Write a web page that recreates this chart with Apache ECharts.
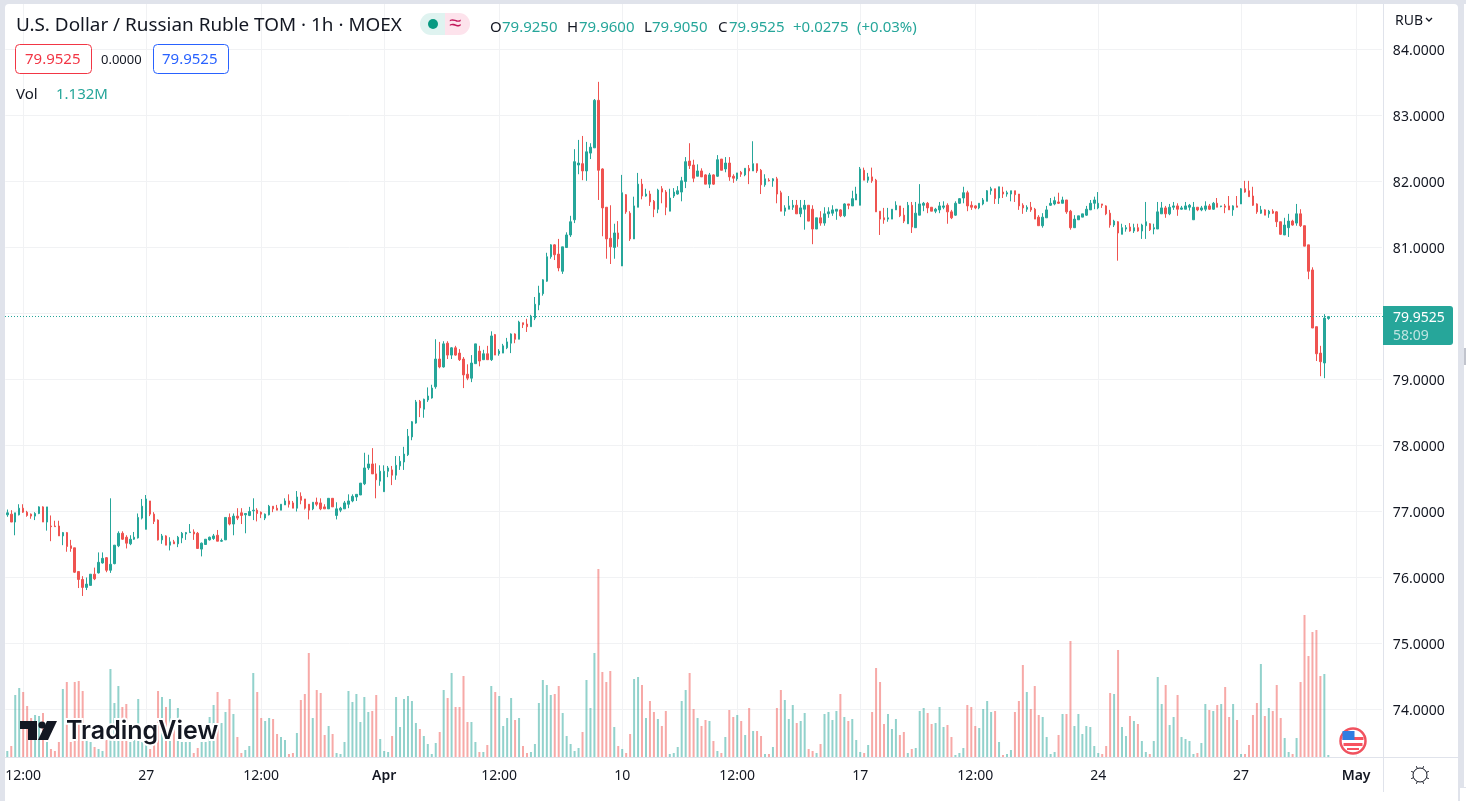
<!DOCTYPE html>
<html>
<head>
<meta charset="utf-8">
<title>USDRUB_TOM 1h</title>
<style>
  html, body { margin: 0; padding: 0; background: #e0e3eb; overflow: hidden; }
  .card { position: absolute; background: #fff; }
  #main { position: absolute; left: 0; top: 0; width: 1466px; height: 801px; }
</style>
<script src="https://cdn.jsdelivr.net/npm/echarts@6/dist/echarts.min.js"></script>
</head>
<body>
<div class="card" style="left:5px;top:4px;width:1453px;height:797px;border-radius:4px 4px 0 0"></div>
<div class="card" style="left:1464px;top:4px;width:2px;height:783px"></div>
<div class="card" style="left:1460px;top:788px;width:6px;height:13px"></div>
<div id="main"></div>
<script>
// hourly bars, one value per bar
const opens = [
  76.95,76.96,76.84,76.95,77.05,76.99,76.96,76.93,76.97,77.07,
  76.84,76.78,76.78,76.78,76.63,76.68,76.48,76.45,76.09,75.97,
  75.85,75.88,76.05,76.07,76.22,76.30,76.11,76.21,76.48,76.67,
  76.61,76.51,76.58,76.60,76.90,76.73,77.16,76.96,76.87,76.57,
  76.63,76.49,76.54,76.51,76.60,76.66,76.68,76.69,76.67,76.43,
  76.50,76.57,76.59,76.64,76.55,76.57,76.91,76.81,76.93,76.98,
  76.95,76.94,77.01,77.02,76.99,76.90,76.95,77.08,77.05,77.02,
  77.10,77.16,77.13,77.05,77.23,77.19,77.11,77.04,77.14,77.13,
  77.07,77.04,77.20,76.94,77.02,77.04,77.11,77.16,77.22,77.25,
  77.42,77.66,77.72,77.57,77.46,77.30,77.61,77.63,77.55,77.69,
  77.75,77.86,78.13,78.34,78.67,78.55,78.69,78.72,78.89,79.31,
  79.19,79.55,79.37,79.48,79.40,79.31,79.08,79.02,79.24,79.43,
  79.30,79.39,79.30,79.68,79.39,79.40,79.48,79.55,79.69,79.61,
  79.86,79.84,79.80,79.93,80.13,80.30,80.49,80.86,81.04,80.90,
  80.64,81.00,81.19,81.42,82.25,82.27,82.16,82.43,82.51,83.23,
  82.19,81.61,81.14,81.00,81.22,80.72,81.80,81.52,81.13,81.61,
  81.96,81.78,81.81,81.70,81.58,81.89,81.84,81.55,81.78,81.81,
  81.84,82.00,82.31,82.25,82.08,82.16,82.10,81.96,82.10,82.08,
  82.34,82.19,82.28,82.08,82.04,82.14,82.10,82.20,82.16,82.27,
  82.17,81.95,82.02,82.01,82.04,81.83,81.55,81.58,81.61,81.64,
  81.51,81.58,81.64,81.58,81.28,81.45,81.37,81.51,81.52,81.55,
  81.57,81.48,81.66,81.63,81.72,81.64,82.17,82.02,82.07,82.02,
  81.55,81.45,81.43,81.43,81.57,81.63,81.49,81.36,81.64,81.30,
  81.49,81.64,81.67,81.61,81.55,81.57,81.61,81.64,81.54,81.49,
  81.67,81.75,81.83,81.64,81.63,81.60,81.66,81.70,81.86,81.89,
  81.75,81.84,81.81,81.81,81.86,81.81,81.64,81.58,81.61,81.58,
  81.46,81.33,81.45,81.64,81.66,81.69,81.67,81.72,81.55,81.30,
  81.42,81.46,81.49,81.57,81.67,81.60,81.66,81.63,81.52,81.34,
  81.39,81.20,81.28,81.31,81.25,81.30,81.25,81.33,81.36,81.28,
  81.28,81.51,81.60,81.51,81.61,81.63,81.58,81.58,81.61,81.42,
  81.61,81.57,81.58,81.63,81.58,81.67,81.62,81.63,81.63,81.57,
  81.63,81.66,81.89,81.86,81.78,81.66,81.52,81.57,81.51,81.55,
  81.54,81.39,81.19,81.30,81.40,81.37,81.51,81.33,81.04,80.66,
  79.80,79.40,79.25,79.925
];
const closes = [
  76.98,76.84,76.98,77.05,76.99,76.94,76.93,76.97,77.07,76.84,
  77.07,76.77,76.77,76.63,76.68,76.47,76.44,76.08,75.97,75.85,
  75.90,76.05,75.98,76.23,76.29,76.11,76.20,76.49,76.67,76.58,
  76.52,76.58,76.61,76.91,77.08,77.19,76.96,76.85,76.57,76.63,
  76.49,76.54,76.51,76.61,76.67,76.68,76.69,76.66,76.44,76.52,
  76.58,76.61,76.63,76.55,76.56,76.91,76.81,76.93,76.90,76.94,
  76.97,77.00,77.02,76.97,76.96,76.96,77.08,77.04,77.02,77.11,
  77.16,77.11,77.05,77.22,77.17,77.05,77.02,77.14,77.11,77.04,
  77.04,77.20,77.07,77.04,77.05,77.13,77.16,77.23,77.26,77.43,
  77.66,77.72,77.57,77.48,77.61,77.61,77.66,77.55,77.70,77.76,
  77.87,78.14,78.36,78.66,78.57,78.70,78.75,78.87,79.31,79.19,
  79.54,79.37,79.48,79.37,79.30,79.07,79.02,79.25,79.54,79.28,
  79.39,79.30,79.66,79.37,79.43,79.51,79.57,79.69,79.61,79.87,
  79.83,79.80,79.96,80.14,80.31,80.51,80.86,81.04,80.89,80.69,
  81.01,81.19,81.39,82.30,82.28,82.16,82.45,82.52,83.23,82.17,
  81.60,81.13,81.01,81.22,81.13,81.83,81.54,81.13,81.63,81.96,
  81.78,81.81,81.69,81.58,81.87,81.84,81.61,81.75,81.84,81.86,
  82.01,82.30,82.24,82.05,82.16,82.07,81.96,82.10,81.96,82.33,
  82.17,82.28,82.07,82.05,82.13,82.11,82.20,82.16,82.27,82.16,
  81.95,82.04,82.01,82.04,81.81,81.55,81.60,81.63,81.64,81.51,
  81.60,81.64,81.40,81.28,81.45,81.37,81.51,81.54,81.57,81.58,
  81.48,81.66,81.64,81.74,81.81,82.19,82.02,82.07,82.01,81.54,
  81.43,81.42,81.45,81.58,81.64,81.48,81.40,81.64,81.31,81.52,
  81.66,81.67,81.60,81.55,81.58,81.63,81.63,81.54,81.45,81.67,
  81.74,81.83,81.63,81.61,81.60,81.67,81.72,81.86,81.89,81.74,
  81.92,81.81,81.83,81.86,81.80,81.63,81.60,81.61,81.57,81.43,
  81.33,81.46,81.57,81.67,81.71,81.67,81.72,81.54,81.30,81.43,
  81.48,81.51,81.58,81.67,81.72,81.67,81.64,81.51,81.34,81.40,
  81.22,81.30,81.30,81.25,81.30,81.25,81.34,81.39,81.27,81.30,
  81.54,81.60,81.51,81.61,81.63,81.58,81.60,81.63,81.64,81.61,
  81.57,81.60,81.63,81.58,81.67,81.61,81.63,81.61,81.57,81.63,
  81.61,81.89,81.84,81.77,81.64,81.54,81.57,81.49,81.55,81.52,
  81.39,81.20,81.34,81.40,81.34,81.51,81.33,81.02,80.64,79.78,
  79.39,79.27,79.93,79.9525
];
const lows = [
  76.92,76.84,76.64,76.94,76.98,76.92,76.89,76.87,76.96,76.84,
  76.71,76.55,76.77,76.63,76.49,76.39,76.39,76.07,75.84,75.72,
  75.81,75.88,75.96,76.06,76.21,76.08,76.07,76.20,76.46,76.57,
  76.44,76.49,76.57,76.59,76.88,76.73,76.93,76.81,76.56,76.51,
  76.49,76.41,76.51,76.46,76.52,76.57,76.68,76.57,76.44,76.32,
  76.50,76.56,76.57,76.55,76.54,76.57,76.79,76.64,76.87,76.81,
  76.67,76.93,76.87,76.85,76.90,76.87,76.94,76.99,77.02,77.02,
  77.10,77.06,77.05,77.00,77.11,77.03,76.88,77.02,77.08,77.02,
  77.04,77.04,77.07,76.88,76.99,77.04,77.05,77.14,77.16,77.25,
  77.40,77.63,77.57,77.20,77.39,77.30,77.52,77.40,77.48,77.63,
  77.63,77.84,78.08,78.33,78.43,78.42,78.66,78.71,78.86,79.17,
  79.18,79.31,79.31,79.36,79.28,78.87,78.99,78.96,79.24,79.20,
  79.30,79.30,79.28,79.37,79.36,79.40,79.46,79.40,79.55,79.61,
  79.78,79.72,79.80,79.90,80.05,80.27,80.48,80.83,80.81,80.64,
  80.60,81.00,81.16,81.37,82.11,82.02,82.01,82.34,82.51,81.72,
  81.17,80.83,80.75,80.83,81.01,80.72,81.51,81.10,81.13,81.61,
  81.73,81.77,81.63,81.46,81.52,81.67,81.49,81.55,81.75,81.80,
  81.70,81.90,82.19,81.99,82.08,82.07,81.96,81.90,81.95,82.07,
  82.17,82.14,82.01,81.98,82.01,82.07,82.08,81.96,82.16,82.13,
  81.81,81.92,82.00,81.92,81.67,81.55,81.48,81.58,81.57,81.51,
  81.46,81.27,81.40,81.05,81.28,81.33,81.33,81.45,81.48,81.42,
  81.46,81.46,81.58,81.63,81.72,81.64,82.02,81.98,81.98,81.54,
  81.19,81.36,81.39,81.43,81.57,81.46,81.37,81.36,81.22,81.30,
  81.49,81.55,81.52,81.55,81.52,81.52,81.58,81.36,81.43,81.48,
  81.66,81.67,81.55,81.57,81.58,81.58,81.64,81.70,81.80,81.66,
  81.66,81.75,81.77,81.70,81.69,81.57,81.51,81.54,81.54,81.43,
  81.33,81.30,81.45,81.63,81.64,81.66,81.67,81.51,81.27,81.30,
  81.42,81.46,81.48,81.57,81.58,81.58,81.60,81.49,81.30,81.31,
  80.80,81.20,81.24,81.24,81.22,81.24,81.13,81.13,81.25,81.20,
  81.28,81.51,81.45,81.49,81.57,81.48,81.57,81.58,81.56,81.42,
  81.55,81.55,81.55,81.57,81.57,81.61,81.61,81.52,81.57,81.48,
  81.61,81.66,81.83,81.77,81.63,81.51,81.51,81.49,81.45,81.51,
  81.31,81.19,81.19,81.16,81.33,81.33,81.31,81.02,80.52,79.78,
  79.28,79.05,79.02,79.905
];
const highs = [
  77.03,77.02,76.98,77.11,77.11,77.01,76.97,76.99,77.08,77.08,
  77.07,76.94,76.86,76.86,76.69,76.69,76.57,76.45,76.09,76.02,
  76.00,76.05,76.15,76.38,76.38,76.31,77.20,76.49,76.70,76.70,
  76.64,76.64,76.69,76.97,77.19,77.25,77.16,76.99,76.88,76.66,
  76.64,76.61,76.57,76.63,76.69,76.69,76.81,76.73,76.69,76.53,
  76.58,76.62,76.66,76.72,76.59,76.91,76.97,76.97,77.05,77.05,
  76.97,77.07,77.20,77.05,77.00,76.97,77.10,77.08,77.10,77.11,
  77.20,77.26,77.16,77.31,77.29,77.19,77.11,77.14,77.21,77.20,
  77.11,77.20,77.20,77.14,77.07,77.16,77.26,77.26,77.26,77.43,
  77.89,77.86,77.96,77.73,77.70,77.70,77.69,77.69,77.84,77.84,
  77.98,78.25,78.37,78.69,78.69,78.71,78.88,78.92,79.61,79.57,
  79.58,79.58,79.49,79.51,79.46,79.34,79.23,79.37,79.54,79.51,
  79.45,79.51,79.73,79.69,79.46,79.54,79.63,79.70,79.70,79.89,
  79.86,79.92,79.98,80.25,80.42,80.52,80.92,81.05,81.05,81.13,
  81.01,81.23,81.48,82.49,82.63,82.69,82.60,82.58,83.25,83.51,
  82.20,81.61,81.64,81.36,81.40,82.10,81.81,81.55,81.77,82.13,
  82.04,81.89,81.86,81.72,81.89,81.93,81.87,81.89,81.90,81.93,
  82.07,82.37,82.58,82.33,82.26,82.20,82.11,82.13,82.11,82.40,
  82.34,82.37,82.37,82.11,82.13,82.16,82.20,82.25,82.61,82.27,
  82.19,82.11,82.05,82.05,82.07,81.86,81.64,81.78,81.72,81.72,
  81.72,81.72,81.64,81.64,81.45,81.55,81.61,81.61,81.64,81.58,
  81.58,81.67,81.66,81.86,81.92,82.22,82.21,82.13,82.21,82.04,
  81.55,81.60,81.60,81.58,81.70,81.63,81.60,81.69,81.69,81.69,
  81.96,81.69,81.69,81.61,81.60,81.69,81.70,81.67,81.57,81.70,
  81.75,81.92,81.86,81.70,81.64,81.67,81.75,81.87,81.92,81.89,
  81.92,81.92,81.86,81.86,81.86,81.81,81.67,81.64,81.69,81.60,
  81.49,81.52,81.63,81.75,81.77,81.83,81.77,81.72,81.57,81.49,
  81.48,81.51,81.63,81.72,81.77,81.84,81.66,81.64,81.57,81.42,
  81.40,81.36,81.34,81.37,81.36,81.36,81.36,81.69,81.37,81.36,
  81.69,81.69,81.63,81.66,81.69,81.67,81.63,81.69,81.66,81.69,
  81.61,81.63,81.70,81.66,81.69,81.75,81.63,81.66,81.78,81.64,
  81.78,81.90,82.01,82.01,81.92,81.67,81.63,81.58,81.57,81.58,
  81.55,81.39,81.45,81.51,81.42,81.66,81.58,81.33,81.04,80.70,
  79.80,79.51,79.99,79.96
];
// volume has no scale in the picture, so these are relative pane units
const volumes = [
  6,11,62,69,65,51,39,42,41,44,
  15,8,6,15,68,75,15,75,76,66,
  20,15,10,8,6,17,88,54,71,50,
  53,15,17,58,15,15,8,12,66,60,
  50,58,39,49,15,15,15,4,9,15,
  15,40,52,65,34,45,58,43,20,4,
  7,11,84,65,39,36,39,38,23,20,
  17,3,4,24,57,63,104,39,67,64,
  22,31,23,4,3,15,66,55,63,35,
  60,45,46,62,18,6,5,21,60,30,
  58,61,56,34,28,21,13,3,14,25,
  67,59,84,50,50,81,35,35,15,5,
  5,12,71,65,61,31,39,59,37,39,
  11,4,5,13,54,77,72,62,63,71,
  44,21,13,6,9,25,77,49,104,188,
  85,75,86,30,11,8,4,23,78,80,
  72,39,56,45,38,31,46,3,4,10,
  56,67,84,48,39,31,37,36,16,6,
  4,20,47,40,42,36,22,49,26,26,
  21,3,3,10,49,67,57,38,52,34,
  36,44,8,6,4,13,43,45,37,46,
  63,40,36,38,17,5,4,12,45,89,
  75,33,43,28,38,22,25,4,8,9,
  46,49,44,33,34,50,30,32,20,2,
  4,9,52,50,31,29,48,56,45,46,
  15,2,3,7,45,56,92,65,48,71,
  42,40,20,3,5,22,43,43,116,31,
  43,23,31,30,11,4,3,11,64,63,
  107,30,21,41,36,33,16,5,3,16,
  80,53,72,32,40,62,20,18,16,3,
  4,14,53,47,46,52,53,70,40,53,
  37,3,3,12,42,54,93,41,49,46,
  72,39,19,5,3,19,75,142,101,125,
  127,81,83,2
];
const lastPrice = 79.9525;

// time axis: bar slots (including empty ones to the right) and the labelled slots
const slotCount = 347;
const tickSlots = [4, 35, 64, 95, 124, 155, 184, 215, 244, 275, 311, 340];
const tickLabels = ["12:00", "27", "12:00", "Apr", "12:00", "10", "12:00", "17", "12:00", "24", "27", "May"];
const boldLabels = ["Apr", "May"];
const categories = [];
for (let i = 0; i < slotCount; i++) {
  const at = tickSlots.indexOf(i);
  categories.push(at >= 0 ? tickLabels[at] : "");
}
const priceGridValues = [74, 75, 76, 77, 78, 79, 80, 81, 82, 83, 84];
const priceLabelValues = [74, 75, 76, 77, 78, 79, 81, 82, 83, 84];

const UP = "#26a69a";
const DOWN = "#ef5350";
const UP_VOL = "rgba(38,166,154,0.5)";
const DOWN_VOL = "rgba(239,83,80,0.5)";
const GRID = "#f1f2f4";
const LINE = "#e0e3eb";
const TEXT = "#131722";
const FONT = "'Noto Sans', sans-serif";

const candleData = opens.map((o, i) => [o, closes[i], lows[i], highs[i]]);
const volumeData = volumes.map((v, i) => ({
  value: v,
  itemStyle: { color: closes[i] >= opens[i] ? UP_VOL : DOWN_VOL }
}));
const isTick = (i) => tickSlots.indexOf(i) >= 0;

function label(x, y, text, color, size, extra) {
  return {
    type: "text", x: x, y: y, z: 50, silent: true,
    style: Object.assign({
      text: text, fill: color, font: size + "px " + FONT,
      textVerticalAlign: "middle", textAlign: "left"
    }, extra || {})
  };
}
function hline(x1, x2, y, color) {
  return { type: "line", z: 40, silent: true, shape: { x1: x1, y1: y, x2: x2, y2: y }, style: { stroke: color, lineWidth: 1 } };
}
function vline(x, y1, y2, color) {
  return { type: "line", z: 40, silent: true, shape: { x1: x, y1: y1, x2: x, y2: y2 }, style: { stroke: color, lineWidth: 1 } };
}
function box(x, y, w, h, r, fill, stroke) {
  return { type: "rect", z: 45, silent: true, shape: { x: x, y: y, width: w, height: h, r: r }, style: { fill: fill, stroke: stroke, lineWidth: 1 } };
}

const gearRays = [];
for (let k = 0; k < 8; k++) {
  const a = k * Math.PI / 4 + Math.PI / 8;
  gearRays.push({
    type: "line", z: 50, silent: true,
    shape: { x1: 1420 + 7 * Math.cos(a), y1: 775 + 7 * Math.sin(a), x2: 1420 + 9.5 * Math.cos(a), y2: 775 + 9.5 * Math.sin(a) },
    style: { stroke: TEXT, lineWidth: 1 }
  });
}

const decorations = [
  // pane separators
  vline(1383.5, 4, 792, LINE),
  hline(5, 1458, 757.5, LINE),

  // header
  label(16, 26, "U.S. Dollar / Russian Ruble TOM · 1h · MOEX", TEXT, 18.9),
  { type: "rect", z: 45, silent: true, shape: { x: 420, y: 13, width: 25, height: 22, r: [11, 0, 0, 11] }, style: { fill: "#dff3f0" } },
  { type: "rect", z: 45, silent: true, shape: { x: 445, y: 13, width: 25, height: 22, r: [0, 11, 11, 0] }, style: { fill: "#fde3ec" } },
  { type: "circle", z: 50, silent: true, shape: { cx: 433, cy: 24, r: 5 }, style: { fill: "#089981" } },
  label(449, 24, "≈", "#c2185b", 22),
  label(490, 28, "O", TEXT, 15),
  label(502, 28, "79.9250", UP, 15),
  label(567, 28, "H", TEXT, 15),
  label(579, 28, "79.9600", UP, 15),
  label(644, 28, "L", TEXT, 15),
  label(652, 28, "79.9050", UP, 15),
  label(718, 28, "C", TEXT, 15),
  label(729, 28, "79.9525", UP, 15),
  label(793, 28, "+0.0275", UP, 15),
  label(857, 28, "(+0.03%)", UP, 15),

  // bid / spread / ask
  box(15.5, 44.5, 76, 29, 4, "#fff", "#f23645"),
  label(25, 60, "79.9525", "#f23645", 15),
  label(101, 60, "0.0000", TEXT, 13),
  box(153.5, 44.5, 75, 29, 4, "#fff", "#2962ff"),
  label(162, 60, "79.9525", "#2962ff", 15),
  label(16, 95, "Vol", TEXT, 15),
  label(56, 95, "1.132M", UP, 15),

  // currency button
  label(1395, 21, "RUB", TEXT, 14),
  { type: "polyline", z: 50, silent: true, shape: { points: [[1426, 18], [1429, 21], [1432, 18]] }, style: { stroke: TEXT, lineWidth: 1.3, fill: null } },

  // last price tag
  { type: "rect", z: 45, silent: true, shape: { x: 1383, y: 306, width: 70, height: 39, r: [0, 3, 3, 0] }, style: { fill: UP } },
  label(1393, 318, "79.9525", "#fff", 14),
  label(1393, 336, "58:09", "rgba(255,255,255,0.7)", 14),

  // watermark
  { type: "polygon", z: 50, silent: true, shape: { points: [[20, 721], [37, 721], [37, 740], [28, 740], [28, 729], [20, 729]] }, style: { fill: TEXT } },
  { type: "circle", z: 50, silent: true, shape: { cx: 42, cy: 725, r: 3.6 }, style: { fill: TEXT } },
  { type: "polygon", z: 50, silent: true, shape: { points: [[47, 721], [57, 721], [48, 740], [38, 740]] }, style: { fill: TEXT } },
  label(66, 731, "TradingView", TEXT, 25, { font: "600 25px Inter, sans-serif", stroke: "#fff", lineWidth: 4 }),

  // flag badge
  { type: "circle", z: 50, silent: true, shape: { cx: 1353, cy: 741, r: 12.5 }, style: { fill: "#fff", stroke: "#f0525f", lineWidth: 2.5 } },
  { type: "rect", z: 51, silent: true, shape: { x: 1342.5, y: 737, width: 21, height: 3 }, style: { fill: "#f7525f" } },
  { type: "rect", z: 51, silent: true, shape: { x: 1343.5, y: 743, width: 19, height: 3 }, style: { fill: "#f7525f" } },
  { type: "rect", z: 51, silent: true, shape: { x: 1347, y: 748, width: 12, height: 2 }, style: { fill: "#f7525f" } },
  { type: "rect", z: 52, silent: true, shape: { x: 1342.5, y: 731, width: 12, height: 9 }, style: { fill: "#2f7de1" } },

  // settings gear
  { type: "circle", z: 50, silent: true, shape: { cx: 1420, cy: 775, r: 7 }, style: { fill: "#fff", stroke: TEXT, lineWidth: 1 } },
  // scrollbar of the next panel
  { type: "rect", z: 50, silent: true, shape: { x: 1464, y: 348, width: 2, height: 17 }, style: { fill: "#c1c4cd" } }
].concat(gearRays);

const chart = echarts.init(document.getElementById("main"), null, { renderer: "canvas" });

const option = {
  animation: false,
  backgroundColor: "transparent",
  textStyle: { fontFamily: FONT },
  // 3.967px per bar, first bar centred at x=7.3
  grid: { left: 5.32, top: 4, width: 1376.55, height: 753, containLabel: false },
  xAxis: {
    type: "category",
    data: categories,
    boundaryGap: true,
    axisLine: { show: false },
    axisTick: { show: false },
    splitLine: {
      show: true,
      alignWithLabel: true,
      interval: (i) => isTick(i),
      lineStyle: { color: GRID, width: 1 }
    },
    axisLabel: {
      interval: (i) => isTick(i),
      margin: 12,
      hideOverlap: false,
      color: TEXT,
      fontSize: 14,
      fontFamily: FONT,
      formatter: (v) => (boldLabels.indexOf(v) >= 0 ? "{b|" + v + "}" : v),
      rich: { b: { fontWeight: 600, fontSize: 14, color: TEXT, fontFamily: FONT } }
    }
  },
  yAxis: [
    {
      type: "value",
      position: "right",
      scale: true,
      // 66px per unit, 84 at y=49.5
      min: 73.2803,
      max: 84.6894,
      axisLine: { show: false },
      axisTick: { show: false, customValues: priceGridValues },
      splitLine: { show: true, lineStyle: { color: GRID, width: 1 } },
      axisLabel: {
        customValues: priceLabelValues,
        margin: 11,
        color: TEXT,
        fontSize: 14,
        fontFamily: FONT,
        formatter: (v) => "{p|" + v.toFixed(4) + "}",
        rich: { p: { padding: [3, 0, 0, 0], fontSize: 14, color: TEXT, fontFamily: FONT } }
      }
    },
    {
      type: "value",
      show: false,
      min: 0,
      max: 753,
      splitLine: { show: false }
    }
  ],
  graphic: { elements: decorations },
  series: [
    {
      name: "Vol",
      type: "bar",
      yAxisIndex: 1,
      barWidth: 2,
      data: volumeData,
      silent: true,
      z: 1
    },
    {
      name: "USDRUB_TOM",
      type: "candlestick",
      yAxisIndex: 0,
      // the 1px border adds the third pixel of body width
      barWidth: 2,
      data: candleData,
      silent: true,
      z: 2,
      itemStyle: {
        color: UP,
        color0: DOWN,
        borderColor: UP,
        borderColor0: DOWN,
        borderColorDoji: UP,
        borderWidth: 1
      }
    }
  ]
};

chart.setOption(option);

// dotted last price line, placed through the price axis and snapped to a pixel row
const lastY = Math.floor(chart.convertToPixel({ yAxisIndex: 0 }, lastPrice)) + 0.5;
chart.setOption({
  graphic: {
    elements: [{
      id: "lastPriceLine", type: "line", z: 30, silent: true,
      shape: { x1: 5, y1: lastY, x2: 1383, y2: lastY },
      style: { stroke: UP, lineWidth: 1, lineDash: [1, 2] }
    }]
  }
});

window.addEventListener("resize", () => {
  chart.resize();
});
</script>
</body>
</html>
